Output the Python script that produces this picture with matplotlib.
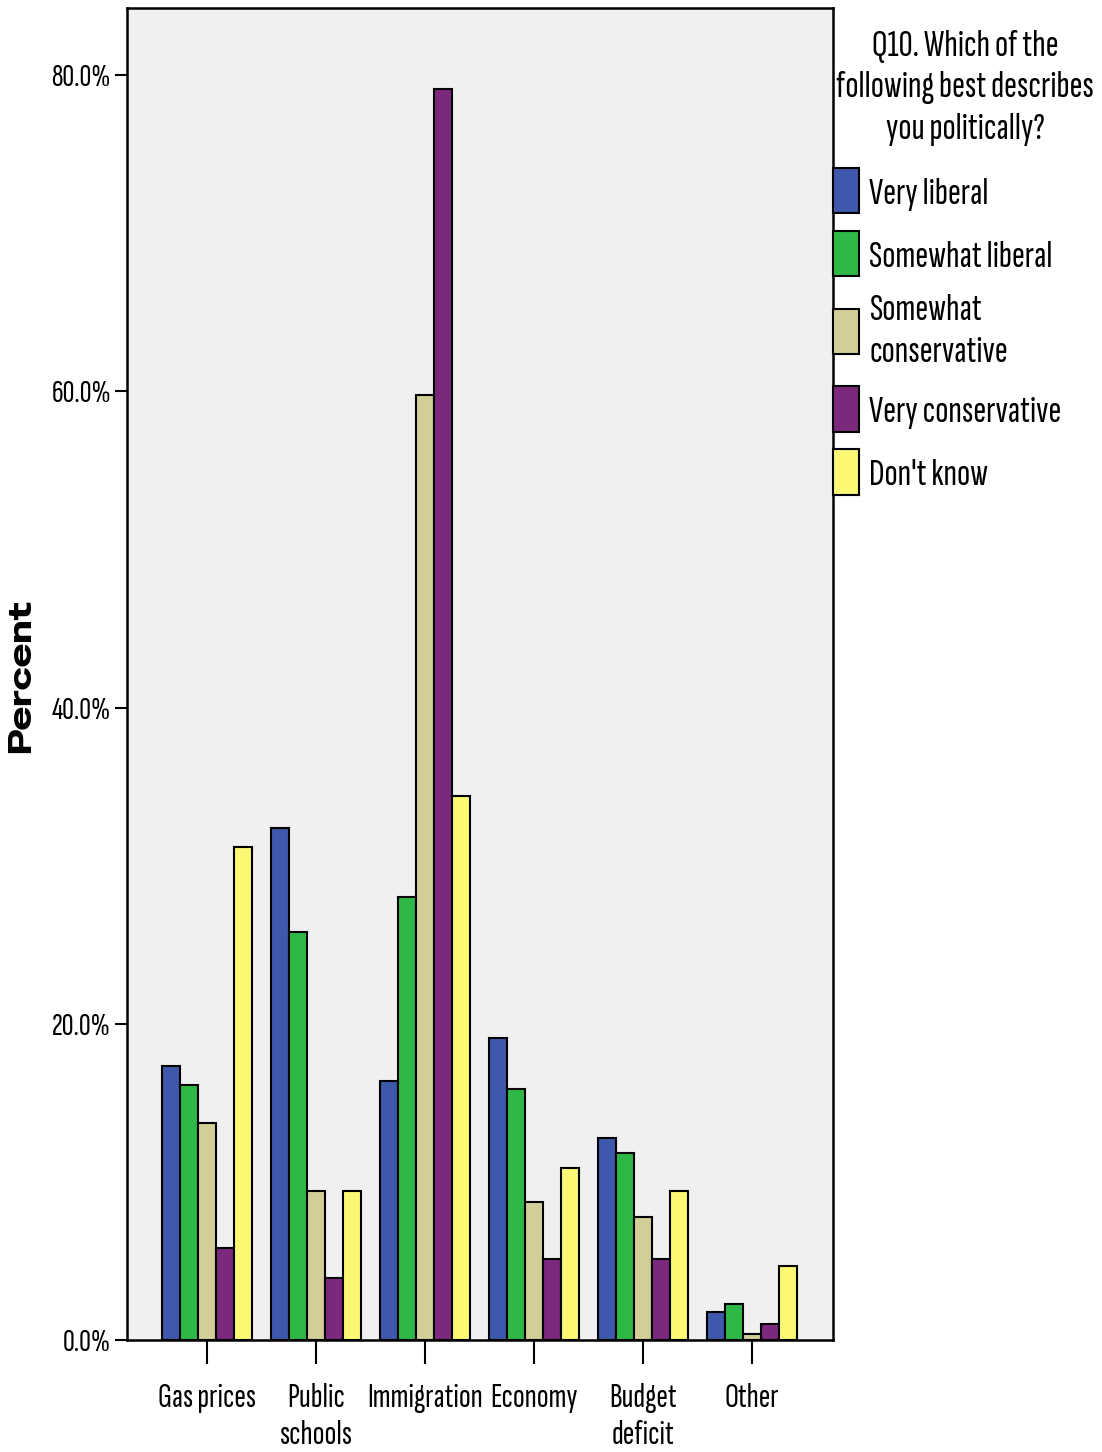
import matplotlib
matplotlib.use("Agg")
import matplotlib.pyplot as plt
import numpy as np
from matplotlib import font_manager

categories = ["Gas prices", "Public\nschools", "Immigration", "Economy", "Budget\ndeficit", "Other"]
series = ["Very liberal", "Somewhat liberal", "Somewhat\nconservative", "Very conservative", "Don't know"]
very_liberal = [17.3, 32.4, 16.4, 19.1, 12.8, 1.8]
somewhat_liberal = [16.1, 25.8, 28.0, 15.9, 11.8, 2.3]
somewhat_conservative = [13.7, 9.4, 59.8, 8.7, 7.8, 0.4]
very_conservative = [5.8, 3.9, 79.1, 5.1, 5.1, 1.0]
dont_know = [31.2, 9.4, 34.4, 10.9, 9.4, 4.7]
yticks = [0, 20, 40, 60, 80]
ytick_labels = ["0.0%", "20.0%", "40.0%", "60.0%", "80.0%"]
colors = ["#3e58ac", "#2eb848", "#d3ce97", "#7c287d", "#fbf873"]
legend_title = "Q10. Which of the\nfollowing best describes\nyou politically?"

values = [very_liberal, somewhat_liberal, somewhat_conservative, very_conservative, dont_know]

names = {f.name for f in font_manager.fontManager.ttflist}
narrow = next(p for p in ["Sofia Sans Extra Condensed", "Saira ExtraCondensed", "Pathway Gothic One",
                          "Archivo Narrow", "Liberation Sans"] if p in names)
wide = next(p for p in ["Special Gothic Expanded One", "Dela Gothic One", "Liberation Sans"] if p in names)

fig = plt.figure(figsize=(11.02, 14.52), dpi=100)
ax = fig.add_axes([127/1102, 112/1452, 706/1102, 1332/1452])
ax.set_facecolor("#f0f0f0")

x = np.arange(len(categories))
w = 0.165
for i, (vals, c, lab) in enumerate(zip(values, colors, series)):
    ax.bar(x + (i - 2) * w, vals, width=w, color=c, edgecolor="black", linewidth=1.5, label=lab, zorder=3)

ax.set_xlim(-0.734, 5.745)
ax.set_ylim(0, 84.25)
ax.set_yticks(yticks)
ax.set_yticklabels(ytick_labels, fontfamily=narrow, fontsize=23.5)
ax.set_xticks(x)
ax.set_xticklabels(categories, fontfamily=narrow, fontsize=25, linespacing=1.3)
ax.tick_params(axis="y", length=8.6, width=1.5, pad=3)
ax.tick_params(axis="x", length=17, width=1.5, pad=14)
for s in ax.spines.values():
    s.set_linewidth(1.8)

ax.set_ylabel("Percent", fontfamily=wide, fontsize=23)
ax.yaxis.set_label_coords(-0.130, 0.4985)

leg = ax.legend(loc="upper left", bbox_to_anchor=(833/1102, 1 - 168/1452), bbox_transform=fig.transFigure,
                frameon=False, borderpad=0, borderaxespad=0, handlelength=0.67, handleheight=1.42,
                handletextpad=0.26, labelspacing=0.45,
                prop={"family": narrow, "size": 28})
for t in leg.get_texts():
    t.set_linespacing(1.35)
for h in leg.legend_handles:
    h.set_linewidth(1.5)

fig.text(965/1102, 1 - 88/1452, legend_title, ha="center", va="center", multialignment="center",
         fontfamily=narrow, fontsize=28, linespacing=1.32)

fig.savefig("out.png", dpi=100)
